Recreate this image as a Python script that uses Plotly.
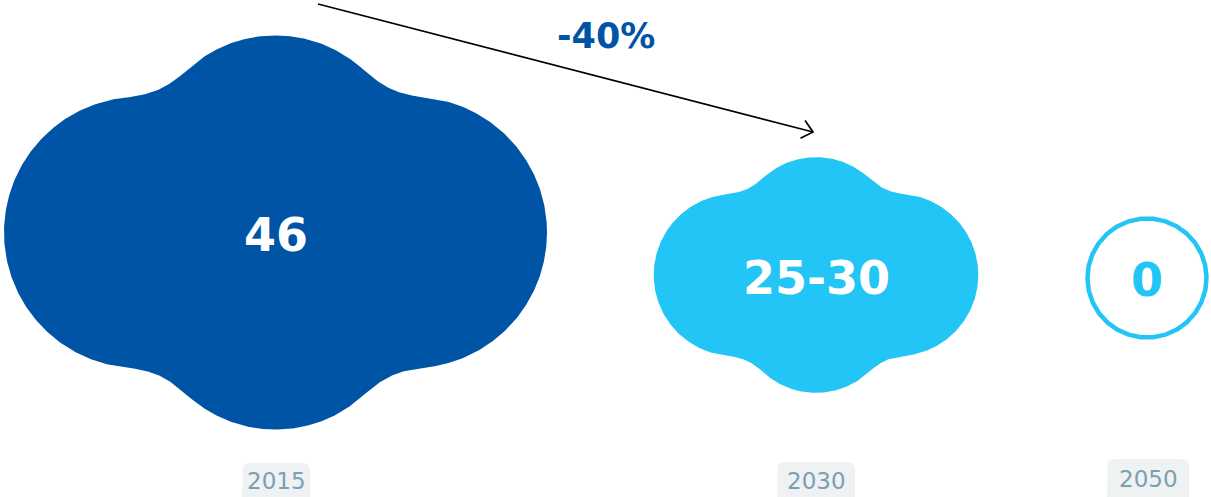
import numpy as np
import plotly.graph_objects as go

# ---------------- data ----------------
YEARS = ["2015", "2030", "2050"]
VALUE_LOW = [46, 25, 0]
VALUE_HIGH = [46, 30, 0]
VALUE_LABELS = ["46", "25-30", "0"]
CHANGE_LABEL = "-40%"

# ---------------- layout / style ----------------
W, H = 1211, 497
DARK = "#0054A6"
CYAN = "#22C5F5"
COLORS = [DARK, CYAN, CYAN]
CX = [275.5, 816.0, 1147.0]          # cloud centres (px)
CY = [232.5, 275.0, 278.0]
REF_HALF_WIDTH = 271.5               # half width of the cloud for the largest value
RING_R = 59.5
TEXT_Y = [235.0, 278.0, 280.0]
LABEL_X = [276.0, 816.0, 1148.0]
LABEL_W = [68.0, 78.0, 82.0]
LABEL_TOP = [463.0, 462.0, 459.0]
LABEL_TEXT_Y = [481.0, 481.0, 478.5]
LABEL_FILL = "#EEF2F3"
LABEL_COLOR = "#7CA0B2"
ARROW_FROM = (318.0, 4.0)
ARROW_TO = (813.0, 132.0)


def _smin(a, b, k):
    h = np.clip(0.5 + 0.5 * (b - a) / k, 0.0, 1.0)
    return b * (1 - h) + a * h - k * h * (1 - h)


def _field(px, py):
    circles = [(-0.5, 0.0, 0.5), (0.5, 0.0, 0.5), (0.0, -0.247, 0.479), (0.0, 0.247, 0.479)]
    k = 0.13
    f = None
    for (ox, oy, r) in circles:
        d = np.hypot(px - ox, py - oy) - r
        f = d if f is None else _smin(f, d, k)
    return f


def cloud_outline(cx, cy, s, n=900):
    """Smooth union of four circles (two side lobes, top & bottom bumps)."""
    th = np.linspace(0, 2 * np.pi, n)
    ux, uy = np.cos(th), np.sin(th)
    lo = np.zeros_like(th)
    hi = np.full_like(th, 1.5)
    for _ in range(50):
        mid = 0.5 * (lo + hi)
        inside = _field(mid * ux, mid * uy) < 0
        lo = np.where(inside, mid, lo)
        hi = np.where(inside, hi, mid)
    rad = 0.5 * (lo + hi)
    return cx + s * rad * ux, cy + s * rad * uy


def rounded_box(xc, top, w, bottom, rr=7, n=12):
    x0, x1 = xc - w / 2, xc + w / 2
    a = np.linspace(np.pi, 1.5 * np.pi, n)
    b = np.linspace(1.5 * np.pi, 2 * np.pi, n)
    xs = [x0] + list(x0 + rr + rr * np.cos(a)) + list(x1 - rr + rr * np.cos(b)) + [x1, x0]
    ys = [bottom] + list(top + rr + rr * np.sin(a)) + list(top + rr + rr * np.sin(b)) + [bottom, bottom]
    return xs, ys


fig = go.Figure()
vmax = max((l + h) / 2 for l, h in zip(VALUE_LOW, VALUE_HIGH))

for i, yr in enumerate(YEARS):
    mid = (VALUE_LOW[i] + VALUE_HIGH[i]) / 2
    if mid > 0:
        s = REF_HALF_WIDTH * mid / vmax
        xs, ys = cloud_outline(CX[i], CY[i], s)
        fig.add_trace(go.Scatter(x=xs, y=ys, mode="lines", fill="toself",
                                 fillcolor=COLORS[i], line=dict(width=0, color=COLORS[i]),
                                 hoverinfo="skip", showlegend=False))
        tcolor = "white"
    else:
        th = np.linspace(0, 2 * np.pi, 361)
        fig.add_trace(go.Scatter(x=CX[i] + RING_R * np.cos(th), y=CY[i] + RING_R * np.sin(th),
                                 mode="lines", line=dict(width=4.5, color=COLORS[i]),
                                 hoverinfo="skip", showlegend=False))
        tcolor = COLORS[i]
    fig.add_annotation(x=CX[i], y=TEXT_Y[i], xref="x", yref="y",
                       text=VALUE_LABELS[i], showarrow=False,
                       font=dict(family="DejaVu Sans", size=46, color=tcolor, weight="bold"))
    # year label box
    bx, by = rounded_box(LABEL_X[i], LABEL_TOP[i], LABEL_W[i], H + 10)
    fig.add_trace(go.Scatter(x=bx, y=by, mode="lines", fill="toself", fillcolor=LABEL_FILL,
                             line=dict(width=0, color=LABEL_FILL), hoverinfo="skip", showlegend=False))
    fig.add_annotation(x=LABEL_X[i], y=LABEL_TEXT_Y[i], xref="x", yref="y", text=yr,
                       showarrow=False, font=dict(family="DejaVu Sans", size=23, color=LABEL_COLOR))

# arrow line
fig.add_trace(go.Scatter(x=[ARROW_FROM[0], ARROW_TO[0]], y=[ARROW_FROM[1], ARROW_TO[1]],
                         mode="lines", line=dict(color="black", width=1.7),
                         hoverinfo="skip", showlegend=False))
d = np.array(ARROW_TO) - np.array(ARROW_FROM)
d = d / np.linalg.norm(d)
back = -d
ang = np.deg2rad(41)
L = 14


def rot(v, a):
    return np.array([v[0] * np.cos(a) - v[1] * np.sin(a), v[0] * np.sin(a) + v[1] * np.cos(a)])


p1 = np.array(ARROW_TO) + L * rot(back, ang)
p2 = np.array(ARROW_TO) + L * rot(back, -ang)
fig.add_trace(go.Scatter(x=[p1[0], ARROW_TO[0], p2[0]], y=[p1[1], ARROW_TO[1], p2[1]],
                         mode="lines", line=dict(color="black", width=1.7),
                         hoverinfo="skip", showlegend=False))
fig.add_annotation(x=606, y=36, xref="x", yref="y", text=CHANGE_LABEL, showarrow=False,
                   font=dict(family="DejaVu Sans", size=35, color=DARK, weight="bold"))

fig.update_layout(width=W, height=H, autosize=False, margin=dict(l=0, r=0, t=0, b=0),
                  paper_bgcolor="white", plot_bgcolor="white",
                  xaxis=dict(range=[0, W], visible=False, fixedrange=True),
                  yaxis=dict(range=[H, 0], visible=False, fixedrange=True))
fig.write_html("out.html", config={"displayModeBar": False},
               post_script="document.body.style.margin='0';document.body.style.overflow='hidden';")
